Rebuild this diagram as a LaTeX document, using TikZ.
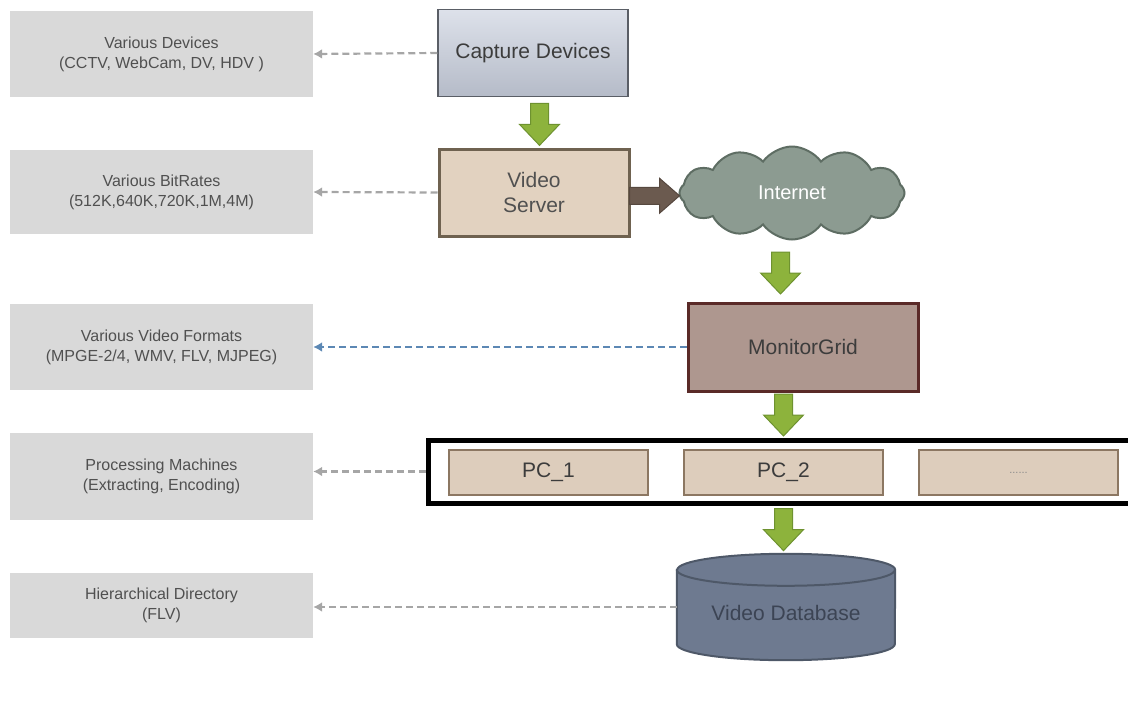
\documentclass[tikz,border=0pt]{standalone}
\usepackage{fontspec}
\setmainfont{Liberation Sans}
\usetikzlibrary{positioning,calc,shapes.symbols,arrows.meta}

\definecolor{infogray}{HTML}{D9D9D9}
\definecolor{infotext}{HTML}{505050}
\definecolor{darktext}{HTML}{3C3C3C}
\definecolor{capturetop}{HTML}{DDE1EA}
\definecolor{capturebot}{HTML}{B5BBC8}
\definecolor{captureline}{HTML}{5A5E66}
\definecolor{serverfill}{HTML}{E2D2C0}
\definecolor{serverline}{HTML}{6F6250}
\definecolor{cloudfill}{HTML}{8C9B91}
\definecolor{cloudline}{HTML}{5E6D63}
\definecolor{gridfill}{HTML}{AE978F}
\definecolor{gridline}{HTML}{5A2A28}
\definecolor{pcfill}{HTML}{DDCDBC}
\definecolor{pcline}{HTML}{8C7762}
\definecolor{dbfill}{HTML}{6E7A90}
\definecolor{dbline}{HTML}{4E5868}
\definecolor{dbtext}{HTML}{3C4454}
\definecolor{flowgreen}{HTML}{8DB33C}
\definecolor{flowline}{HTML}{6E9230}
\definecolor{flowbrown}{HTML}{6B5A4F}
\definecolor{dashgray}{HTML}{A6A6A6}
\definecolor{dashblue}{HTML}{5C88B4}
\definecolor{dotgray}{HTML}{8A8A8A}

\begin{document}
\begin{tikzpicture}[x=1pt,y=-1pt,
    info/.style={fill=infogray, text=infotext, minimum width=303pt, inner sep=0pt,
      align=center, font=\fontsize{16}{20}\selectfont},
    box/.style={minimum width=190pt, minimum height=87pt, align=center,
      font=\fontsize{21}{25}\selectfont},
    pcbox/.style={draw=pcline, line width=2pt, fill=pcfill, minimum width=199pt,
      minimum height=45pt, text=darktext, font=\fontsize{21}{25}\selectfont},
    infoarrow/.style={draw=dashgray, line width=2.2pt, dash pattern=on 7pt off 4pt,
      -{Latex[length=9pt,width=10pt]}},
    pics/flowdown/.style={code={
      \filldraw[fill=flowgreen, draw=flowline, line width=1pt]
        (-9,-21) -- (9,-21) -- (9,0) -- (20,0) -- (0,21) -- (-20,0) -- (-9,0) -- cycle;}},
    pics/flowright/.style={code={
      \filldraw[fill=flowbrown, draw=flowbrown!80!black, line width=1pt]
        (-25,-8.5) -- (5,-8.5) -- (5,-17.5) -- (25,0) -- (5,17.5) -- (5,8.5) -- (-25,8.5) -- cycle;}}]
\useasboundingbox (0,0) rectangle (1128,715);

% left column
\node[info, minimum height=86pt] (various) at (161.5,54) {Various Devices\\(CCTV, WebCam, DV, HDV )};
\node[info, minimum height=84pt] (bitrates) at (161.5,192) {Various BitRates\\(512K,640K,720K,1M,4M)};
\node[info, minimum height=86pt] (formats) at (161.5,347) {Various Video Formats\\(MPGE-2/4, WMV, FLV, MJPEG)};
\node[info, minimum height=87pt] (machines) at (161.5,476.5) {Processing Machines\\(Extracting, Encoding)};
\node[info, minimum height=65pt] (directory) at (161.5,605.5) {Hierarchical Directory\\(FLV)};

% flow
\node[box, draw=captureline, line width=1.5pt, top color=capturetop, bottom color=capturebot,
  text=darktext] (capture) at (533,53) {Capture Devices};
\node[box, draw=serverline, line width=3pt, fill=serverfill, text=darktext!90] (server) at (534,192.5) {Video\\Server};
\node[cloud, cloud puffs=12, cloud puff arc=110, aspect=2.4, minimum width=225pt, minimum height=93pt,
  inner sep=0pt, draw=cloudline, line width=2pt, fill=cloudfill, text=white,
  font=\fontsize{20}{24}\selectfont] (internet) at (792,193) {Internet};
\node[box, minimum width=230pt, minimum height=88pt, draw=gridline, line width=3pt, fill=gridfill,
  text=darktext] (monitor) at (803,347) {MonitorGrid};
\node[draw=black, line width=5pt, minimum width=712pt, minimum height=63pt] (pcrow) at (784,471.5) {};
\node[pcbox] (pcA) at (548.5,472.5) {PC\_1};
\node[pcbox, right=34pt of pcA] (pcB) {PC\_2};
\node[pcbox, right=34pt of pcB, text=dotgray, font=\fontsize{11}{13}\selectfont] (pcC) {......};

% database
\node[minimum width=218pt, minimum height=106pt, inner sep=0pt] (db) at (786,607) {};
\filldraw[fill=dbfill, draw=dbline, line width=2pt]
  ([yshift=-16pt]db.north west) -- ([yshift=16pt]db.south west)
  arc[start angle=180, end angle=360, x radius=109pt, y radius=16pt]
  -- ([yshift=-16pt]db.north east)
  arc[start angle=0, end angle=180, x radius=109pt, y radius=16pt] -- cycle;
\draw[dbline, line width=2pt] ([yshift=-16pt]db.north west)
  arc[start angle=180, end angle=360, x radius=109pt, y radius=16pt];
\node[text=dbtext, font=\fontsize{21}{25}\selectfont] (dblabel) at ([yshift=-6pt]db.center) {Video Database};

% block arrows
\pic at ($(capture.south)!0.5!(server.north)+(6,2)$) {flowdown};
\pic at ($(server.east)!0.5!(internet.west)+(0,3)$) {flowright};
\pic at ($(internet.south)!0.5!(monitor.north)+(-17,2)$) {flowdown};
\pic at ($(monitor.south -| pcB.north)!0.5!(pcrow.north -| pcB.north)$) {flowdown};
\pic at ($(pcrow.south -| pcB.south)!0.5!(db.north -| pcB.south)$) {flowdown};

% dashed links
\draw[infoarrow] (capture.west) -- (various.east);
\draw[infoarrow] (server.west) -- (bitrates.east);
\draw[infoarrow, draw=dashblue] (monitor.west) -- (formats.east);
\draw[infoarrow] (pcrow.west) -- (pcrow.west -| machines.east);
\draw[infoarrow] (db.west) -- (db.west -| directory.east);
\end{tikzpicture}
\end{document}
